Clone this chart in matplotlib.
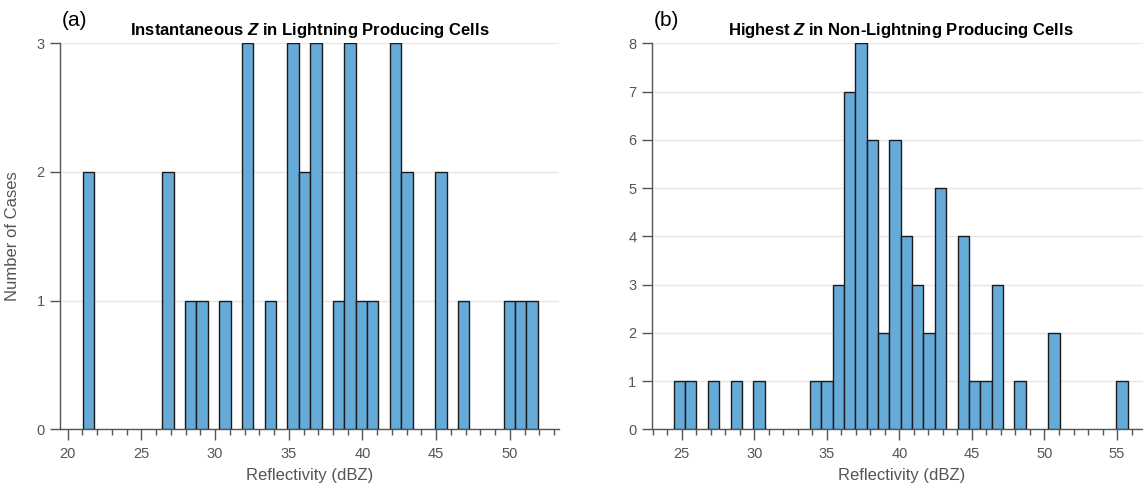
import numpy as np
import matplotlib.pyplot as plt
from matplotlib.ticker import MultipleLocator

plt.rcParams['font.family'] = ['Liberation Sans', 'DejaVu Sans']
plt.rcParams['mathtext.fontset'] = 'custom'
plt.rcParams['mathtext.bfit'] = 'Liberation Sans:italic:bold'
plt.rcParams['mathtext.it'] = 'Liberation Sans:italic'

# histogram counts (40 bins each)
counts_a = [2, 0, 0, 0, 0, 0, 0, 2, 0, 1,
            1, 0, 1, 0, 3, 0, 1, 0, 3, 2,
            3, 0, 1, 3, 1, 1, 0, 3, 2, 0,
            0, 2, 0, 1, 0, 0, 0, 1, 1, 1]
counts_b = [1, 1, 0, 1, 0, 1, 0, 1, 0, 0,
            0, 0, 1, 1, 3, 7, 8, 6, 2, 6,
            4, 3, 2, 5, 0, 4, 1, 1, 3, 0,
            1, 0, 0, 2, 0, 0, 0, 0, 0, 1]
# bin range (dBZ)
range_a = (21.02, 51.88)
range_b = (24.45, 55.74)

titles = [r"Instantaneous $\mathbfit{Z}$ in Lightning Producing Cells",
          r"Highest $\mathbfit{Z}$ in Non-Lightning Producing Cells"]
labels = ["(a)", "(b)"]

W, H = 1143, 491
fig = plt.figure(figsize=(W / 100, H / 100), dpi=100)

bar_face = '#66aad7'
bar_edge = '#1a1a1a'
axis_col = '#555555'
txt_col = '#555555'

# axes boxes in pixels: left, top, width, height
boxes = [(60, 43.3, 499, 386), (651.7, 43.3, 499, 386)]
xlims = [(19.48, 53.33), (22.93, 57.32)]
ylims = [(0, 3), (0, 8)]

for i, (counts, rng) in enumerate([(counts_a, range_a), (counts_b, range_b)]):
    l, t, w, h = boxes[i]
    ax = fig.add_axes([l / W, 1 - (t + h) / H, w / W, h / H])
    counts = np.array(counts)
    edges = np.linspace(rng[0], rng[1], len(counts) + 1)
    bw = edges[1] - edges[0]
    m = counts > 0
    ax.bar(edges[:-1][m], counts[m], width=bw, align='edge',
           color=bar_face, edgecolor=bar_edge, linewidth=1.0, zorder=3)

    ax.set_xlim(*xlims[i])
    ax.set_ylim(*ylims[i])
    ax.xaxis.set_major_locator(MultipleLocator(5))
    ax.xaxis.set_minor_locator(MultipleLocator(1))
    ax.yaxis.set_major_locator(MultipleLocator(1))
    ax.grid(axis='y', color='#e6e6e6', linewidth=1.0, zorder=0)
    ax.set_axisbelow(True)

    for s in ['top', 'right']:
        ax.spines[s].set_visible(False)
    for s in ['left', 'bottom']:
        ax.spines[s].set_color(axis_col)
        ax.spines[s].set_linewidth(1.0)
    ax.tick_params(axis='x', which='major', direction='out', length=8, width=1,
                   color=axis_col, labelcolor=txt_col, labelsize=10.5, pad=5)
    ax.tick_params(axis='x', which='minor', direction='out', length=4.5, width=1,
                   color=axis_col)
    ax.tick_params(axis='y', which='major', direction='out', length=7, width=1,
                   color=axis_col, labelcolor=txt_col, labelsize=10.5, pad=4)

    ax.set_xlabel("Reflectivity (dBZ)", fontsize=12, color=txt_col, labelpad=5)
    ax.set_title(titles[i], fontsize=12, fontweight='bold', pad=6)
    fig.text((l + 2) / W, 1 - 20 / H, labels[i], fontsize=15, ha='left', va='center')

    if i == 0:
        ax.set_ylabel("Number of Cases", fontsize=12, color=txt_col)
        ax.yaxis.set_label_coords(-0.08, 0.5)

plt.savefig('out.png', dpi=100)
